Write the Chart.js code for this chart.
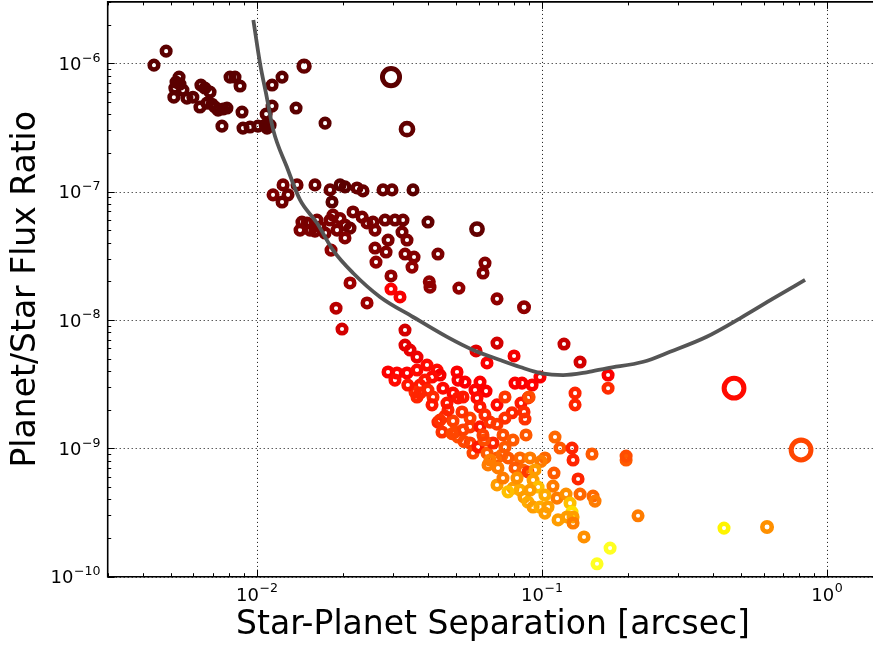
<!DOCTYPE html>
<html><head><meta charset="utf-8">
<style>html,body{margin:0;padding:0;background:#fff;}canvas{display:block;}</style>
<script src="https://cdn.jsdelivr.net/npm/chart.js@4.4.0/dist/chart.umd.min.js"></script>
</head><body>
<canvas id="c" width="873" height="650"></canvas>
<script>
// ---- data ----
const sepArcsec = [
0.00436,0.00481,0.00534,0.00521,0.00516,0.00512,0.00551,0.00569,0.00597,0.00637,
0.00686,0.00632,0.00669,0.00714,0.00732,0.00786,0.00755,0.00806,0.00839,0.00874,
0.00888,0.00895,0.00947,0.0101,0.01087,0.01114,0.01079,0.01132,0.01132,0.01227,
0.01466,0.01374,0.01737,0.02959,0.03367,0.00538,0.00658,0.00697,0.00761,0.01071,
0.01141,0.01227,0.01237,0.01288,0.01385,0.01601,0.01808,0.0196,0.0204,0.02248,
0.0236,0.02774,0.02983,0.03535,0.01837,0.01501,0.01538,0.01627,0.01737,0.01808,
0.01852,0.01913,0.0204,0.02125,0.01668,0.0196,0.02177,0.02342,0.02438,0.02558,
0.026,0.02819,0.03055,0.0326,0.0399,0.05927,0.01823,0.026,0.0289,0.02843,
0.03234,0.03367,0.03314,0.03564,0.04324,0.02621,0.03506,0.02959,0.04031,0.04055,
0.02125,0.02959,0.03182,0.02438,0.01898,0.01992,0.05121,0.06323,0.06223,0.06967,
0.08667,0.03313,0.03313,0.0345,0.0365,0.05881,0.06967,0.07996,0.06426,0.1197,
0.1363,0.1709,0.1709,0.1309,0.4728,0.8125,0.02889,0.03105,0.03367,0.0365,
0.03957,0.0429,0.04396,0.04121,0.03893,0.0374,0.03592,0.0365,0.03988,0.04155,
0.04121,0.04503,0.05043,0.05085,0.05379,0.04883,0.05085,0.05294,0.06074,0.05833,
0.06376,0.05927,0.06074,0.06967,0.07432,0.08058,0.08527,0.09249,0.0986,0.08458,
0.0895,0.08666,0.07866,0.08734,0.0903,0.04324,0.04576,0.04467,0.04883,0.05085,
0.04962,0.05603,0.05603,0.06074,0.06585,0.06967,0.05603,0.0574,0.05978,0.06426,
0.06746,0.07314,0.0793,0.08807,0.1309,0.1113,0.1159,0.1277,0.1288,0.1501,
0.1977,0.1977,0.1026,0.0994,0.06967,0.07256,0.0839,0.07023,0.06967,0.08058,
0.08596,0.0895,0.07314,0.0793,0.0839,0.08189,0.09323,0.0971,0.08666,0.0895,
0.09323,0.0986,0.1026,0.1052,0.1104,0.1341,0.1095,0.1131,0.1217,0.1363,
0.1513,0.1538,0.1257,0.1277,0.1288,0.1226,0.1288,0.1407,0.1737,0.1563,
0.2177,0.436,0.6173,0.04396,0.05294,0.04844,0.05337,0.06274,0.06585,0.07614,
0.091,0.01441,0.01601,0.0469,0.0525,0.0632,0.0743,0.0622,0.0743,0.0648,
0.0762,0.0910,0.0947,0.1026,0.1141,0.0374,0.0339,0.03055,0.0465,0.01419,
0.0204
];
const fluxRatio = [
9.65e-7,1.24e-6,7.79e-7,7.12e-7,6.40e-7,5.43e-7,6.17e-7,5.34e-7,5.43e-7,6.75e-7,
5.95e-7,4.55e-7,4.88e-7,4.55e-7,4.31e-7,4.47e-7,3.23e-7,7.79e-7,7.79e-7,6.63e-7,
4.16e-7,3.12e-7,3.18e-7,3.23e-7,3.12e-7,3.29e-7,4.01e-7,4.63e-7,6.75e-7,7.79e-7,
9.48e-7,4.47e-7,3.41e-7,7.79e-7,3.06e-7,6.87e-7,6.40e-7,4.79e-7,4.39e-7,3.29e-7,
9.42e-8,8.29e-8,1.127e-7,9.42e-8,1.127e-7,1.127e-7,1.03e-7,1.127e-7,1.087e-7,1.067e-7,
1.012e-7,1.03e-7,1.03e-7,1.03e-7,8.29e-8,5.69e-8,5.01e-8,6.00e-8,4.75e-8,6.00e-8,
6.56e-8,5.01e-8,5.49e-8,5.19e-8,5.3e-8,6.15e-8,6.93e-8,6.33e-8,5.69e-8,5.79e-8,
5.01e-8,6.00e-8,6.00e-8,6.00e-8,5.79e-8,5.10e-8,3.50e-8,3.63e-8,4.19e-8,3.38e-8,
4.83e-8,4.19e-8,3.26e-8,3.09e-8,3.26e-8,2.82e-8,2.58e-8,2.20e-8,1.98e-8,1.80e-8,
1.94e-8,1.74e-8,1.51e-8,1.355e-8,1.234e-8,8.49e-9,1.77e-8,2.77e-8,2.32e-8,1.46e-8,
1.256e-8,8.34e-9,6.37e-9,5.83e-9,5.14e-9,5.73e-9,6.60e-9,5.24e-9,4.62e-9,6.49e-9,
4.70e-9,3.72e-9,2.94e-9,2.69e-9,2.94e-9,9.70e-10,3.93e-9,3.86e-9,3.86e-9,4.07e-9,
4.45e-9,4.07e-9,3.72e-9,3.59e-9,3.40e-9,3.11e-9,2.74e-9,2.51e-9,2.84e-9,2.51e-9,
2.18e-9,2.94e-9,3.93e-9,3.40e-9,3.28e-9,2.69e-9,2.47e-9,2.51e-9,3.28e-9,2.84e-9,
2.79e-9,2.47e-9,2.10e-9,2.18e-9,2.51e-9,3.22e-9,3.22e-9,3.11e-9,3.59e-9,2.25e-9,
2.47e-9,1.92e-9,1.89e-9,1.69e-9,2.51e-9,1.60e-9,1.78e-9,1.34e-9,1.63e-9,1.224e-9,
1.34e-9,1.72e-9,1.47e-9,1.47e-9,1.60e-9,1.54e-9,1.10e-9,9.19e-10,1.023e-9,9.19e-10,
1.10e-9,1.27e-9,1.16e-9,1.27e-9,2.18e-9,1.224e-9,1.005e-9,1.005e-9,8.11e-10,9.03e-10,
8.11e-10,8.7e-10,8.41e-10,7.91e-10,8.41e-10,8.87e-10,8.41e-10,7.03e-10,5.18e-10,7.03e-10,
6.78e-10,6.54e-10,5.87e-10,4.90e-10,4.73e-10,5.87e-10,5.66e-10,4.99e-10,4.17e-10,3.81e-10,
3.49e-10,3.49e-10,3.13e-10,3.49e-10,6.42e-10,5.77e-10,5.08e-10,4.09e-10,4.40e-10,4.40e-10,
4.25e-10,3.88e-10,3.74e-10,3.19e-10,2.92e-10,2.92e-10,2.62e-10,2.04e-10,1.67e-10,1.26e-10,
2.98e-10,2.39e-10,2.44e-10,1.66e-9,1.39e-9,1.30e-9,1.13e-9,1.16e-9,8.11e-10,4.58e-10,
4.73e-10,5.79e-8,4.92e-8,1.99e-9,1.92e-9,1.82e-9,1.72e-9,1.27e-9,1.02e-9,7.42e-10,
8.41e-10,8.41e-10,6.78e-10,4.32e-10,2.77e-10,2.69e-9,3.11e-9,3.40e-9,2.25e-9,5.01e-8,
4.35e-8
];
const colourIndex = [
0.12,0.12,0.12,0.12,0.12,0.12,0.12,0.12,0.12,0.12,
0.12,0.12,0.12,0.12,0.12,0.12,0.12,0.12,0.12,0.12,
0.12,0.12,0.12,0.12,0.12,0.12,0.12,0.12,0.12,0.12,
0.13,0.12,0.12,0.12,0.13,0.12,0.12,0.12,0.12,0.12,
0.17,0.15,0.16,0.15,0.15,0.14,0.14,0.12,0.12,0.14,
0.14,0.14,0.14,0.12,0.12,0.17,0.17,0.17,0.17,0.17,
0.17,0.17,0.16,0.15,0.17,0.17,0.16,0.16,0.17,0.16,
0.17,0.15,0.15,0.15,0.13,0.13,0.2,0.18,0.17,0.18,
0.16,0.17,0.18,0.18,0.17,0.2,0.2,0.2,0.2,0.2,
0.22,0.36,0.35,0.22,0.26,0.3,0.2,0.18,0.18,0.2,
0.2,0.3,0.32,0.33,0.34,0.32,0.3,0.35,0.36,0.28,
0.3,0.36,0.43,0.42,0.38,0.47,0.36,0.37,0.37,0.38,
0.38,0.38,0.35,0.38,0.4,0.4,0.43,0.42,0.42,0.43,
0.4,0.38,0.36,0.36,0.36,0.38,0.4,0.4,0.36,0.37,
0.36,0.38,0.4,0.38,0.45,0.36,0.36,0.37,0.36,0.4,
0.42,0.43,0.42,0.44,0.48,0.42,0.43,0.44,0.46,0.48,
0.47,0.46,0.45,0.4,0.44,0.45,0.45,0.47,0.4,0.5,
0.42,0.48,0.5,0.5,0.42,0.52,0.5,0.42,0.42,0.5,
0.5,0.48,0.52,0.55,0.5,0.52,0.52,0.55,0.6,0.5,
0.52,0.45,0.55,0.6,0.62,0.58,0.6,0.65,0.6,0.62,
0.6,0.62,0.6,0.6,0.5,0.42,0.55,0.55,0.58,0.52,
0.52,0.55,0.65,0.7,0.6,0.6,0.55,0.58,0.78,0.78,
0.55,0.73,0.58,0.44,0.46,0.47,0.47,0.48,0.55,0.65,
0.6,0.16,0.17,0.42,0.44,0.43,0.44,0.46,0.5,0.55,
0.5,0.55,0.6,0.62,0.6,0.42,0.4,0.38,0.4,0.17,
0.18
];
const sizeClass = [
1,1,1,1,1,1,1,1,1,1,
1,1,1,1,1,1,1,1,1,1,
1,1,1,1,1,1,1,1,1,1,
1.25,1,1,2,1.4,1,1,1,1,1,
1,1,1,1,1,1,1,1,1,1,
1,1,1,1,1,1,1,1,1,1,
1,1,1,1,1,1,1,1,1,1,
1,1,1,1,1,1.3,1,1,1,1,
1,1,1,1,1,1,1,1,1,1,
1,1,1,1,1,1,1,1,1,1,
1.1,1,1,1,1,1,1,1,1,1,
1,1,1,1,2.3,2.3,1,1,1,1,
1,1,1,1,1,1,1,1,1,1,
1,1,1,1,1,1,1,1,1,1,
1,1,1,1,1,1,1,1,1,1,
1,1,1,1,1,1,1,1,1,1,
1,1,1,1,1,1,1,1,1,1,
1,1,1,1,1,1,1,1,1,1,
1,1,1,1,1,1,1,1,1,1,
1,1,1,1,1,1,1,1,1,1,
1,1,1,1,1,1,1,1,1,1,
1,1,1,1,1,1,1,1,1,1,
1,1,1.1,1,1,1,1,1,1,1,
1,1,1,1,1,1,1,1,1,1,
1,1,1,1,1,1,1,1,1,1,
1
];
const curveSep = [0.00973,0.01027,0.01084,0.01143,0.01275,0.01419,0.01627,0.01852,0.02177,0.02708,
  0.03535,0.04653,0.0574,0.0714,0.0839,0.1,0.1188,0.1438,0.169,0.2273,0.2819,0.3793,0.4964,0.6496,0.8392];
const curveFlux = [2.17e-6,9.96e-7,5.47e-7,3.01e-7,1.56e-7,8.6e-8,5.69e-8,3.5e-8,2.32e-8,1.51e-8,
  1.054e-8,7.37e-9,5.83e-9,4.87e-9,4.3e-9,3.84e-9,3.72e-9,3.91e-9,4.2e-9,4.72e-9,5.65e-9,7.4e-9,1.03e-8,1.47e-8,2.05e-8];
const xTickExponents = [-2, -1, 0];
const yTickExponents = [-10, -9, -8, -7, -6];
const xRange = [0.003, 1.453];
const yRange = [1e-10, 3e-6];
const xAxisTitle = 'Star-Planet Separation [arcsec]';
const yAxisTitle = 'Planet/Star Flux Ratio';

// matplotlib "hot" colormap
function hot(t) {
  const r = Math.min(1, 0.0416 + 0.9584 * t / 0.365079);
  const g = Math.min(1, Math.max(0, (t - 0.365079) / (0.746032 - 0.365079)));
  const b = Math.min(1, Math.max(0, (t - 0.746032) / (1 - 0.746032)));
  return 'rgb(' + Math.round(r * 255) + ',' + Math.round(g * 255) + ',' + Math.round(b * 255) + ')';
}

const FONT = '"DejaVu Sans", "Liberation Sans", sans-serif';

const axesDecor = {
  id: 'axesDecor',
  beforeDatasetsDraw(chart) {
    const {ctx, chartArea: a, scales: {x, y}} = chart;
    ctx.save();
    ctx.strokeStyle = '#111';
    ctx.lineWidth = 1;
    ctx.setLineDash([1, 3]);
    xTickExponents.forEach(e => {
      const px = Math.round(x.getPixelForValue(Math.pow(10, e))) + 0.5;
      ctx.beginPath(); ctx.moveTo(px, a.top); ctx.lineTo(px, a.bottom); ctx.stroke();
    });
    yTickExponents.forEach(e => {
      const py = Math.round(y.getPixelForValue(Math.pow(10, e))) + 0.5;
      ctx.beginPath(); ctx.moveTo(a.left, py); ctx.lineTo(a.right, py); ctx.stroke();
    });
    ctx.restore();
  },
  afterDatasetsDraw(chart) {
    const {ctx, chartArea: a, scales: {x, y}} = chart;
    ctx.save();
    // minor / major ticks pointing inward
    ctx.strokeStyle = '#000';
    ctx.lineWidth = 1;
    const logTicks = (min, max) => {
      const out = [];
      for (let d = Math.floor(Math.log10(min)); d <= Math.ceil(Math.log10(max)); d++) {
        for (let m = 1; m <= 9; m++) {
          const v = m * Math.pow(10, d);
          if (v >= min * 0.9999 && v <= max * 1.0001) out.push({v, major: m === 1});
        }
      }
      return out;
    };
    logTicks(xRange[0], xRange[1]).forEach(t => {
      const px = Math.round(x.getPixelForValue(t.v)) + 0.5;
      const len = t.major ? 7 : 3.5;
      ctx.beginPath();
      ctx.moveTo(px, a.bottom); ctx.lineTo(px, a.bottom - len);
      ctx.moveTo(px, a.top); ctx.lineTo(px, a.top + len);
      ctx.stroke();
    });
    logTicks(yRange[0], yRange[1]).forEach(t => {
      const py = Math.round(y.getPixelForValue(t.v)) + 0.5;
      const len = t.major ? 7 : 3.5;
      ctx.beginPath();
      ctx.moveTo(a.left, py); ctx.lineTo(a.left + len, py);
      ctx.stroke();
    });
    // frame (right spine lies outside the picture)
    ctx.lineWidth = 1.6;
    ctx.beginPath();
    ctx.moveTo(a.right + 2, a.top); ctx.lineTo(a.left, a.top);
    ctx.lineTo(a.left, a.bottom); ctx.lineTo(a.right + 2, a.bottom);
    ctx.stroke();

    // tick labels: 10 with superscript exponent
    ctx.fillStyle = '#000';
    ctx.textBaseline = 'alphabetic';
    ctx.textAlign = 'left';
    const baseFont = '18px ' + FONT, expFont = '12.6px ' + FONT;
    const expText = e => (e < 0 ? '\u2212' : '') + Math.abs(e);
    const measure = (txt, f) => { ctx.font = f; return ctx.measureText(txt).width; };
    xTickExponents.forEach(e => {
      const px = x.getPixelForValue(Math.pow(10, e));
      const wb = measure('10', baseFont), we = measure(expText(e), expFont);
      const x0 = px - (wb + we) / 2;
      ctx.font = baseFont; ctx.fillText('10', x0, 600.5);
      ctx.font = expFont; ctx.fillText(expText(e), x0 + wb + 0.5, 592);
    });
    yTickExponents.forEach(e => {
      const py = y.getPixelForValue(Math.pow(10, e));
      const wb = measure('10', baseFont), we = measure(expText(e), expFont);
      const x0 = 100 - (wb + we);
      ctx.font = baseFont; ctx.fillText('10', x0, py + 6.7);
      ctx.font = expFont; ctx.fillText(expText(e), x0 + wb + 0.5, py - 1.6);
    });

    // axis titles
    ctx.font = '33px ' + FONT;
    ctx.textAlign = 'center';
    ctx.fillText(xAxisTitle, 493, 633.5);
    ctx.save();
    ctx.translate(35, (a.top + a.bottom) / 2);
    ctx.rotate(-Math.PI / 2);
    ctx.fillText(yAxisTitle, 0, 0);
    ctx.restore();
    ctx.restore();
  }
};

const bgPlugin = {
  id: 'bg',
  beforeDraw(chart) {
    const c = chart.ctx;
    c.save(); c.fillStyle = '#fff'; c.fillRect(0, 0, chart.width, chart.height); c.restore();
  }
};

const scatterPoints = sepArcsec.map((s, i) => ({x: s, y: fluxRatio[i]}));
const curvePoints = curveSep.map((s, i) => ({x: s, y: curveFlux[i]}));

new Chart(document.getElementById('c'), {
  type: 'scatter',
  data: {
    datasets: [
      {
        label: 'Contrast curve',
        data: curvePoints,
        showLine: true,
        borderColor: '#555555',
        borderWidth: 3.8,
        pointRadius: 0,
        cubicInterpolationMode: 'monotone',
        fill: false,
        order: 0
      },
      {
        label: 'Planets',
        data: scatterPoints,
        pointStyle: 'circle',
        pointRadius: sizeClass.map(s => 4.3 * s),
        pointBorderWidth: sizeClass.map(s => 4.5 + (s - 1) * 0.4),
        pointBorderColor: colourIndex.map(hot),
        pointBackgroundColor: 'rgba(0,0,0,0)',
        order: 1
      }
    ]
  },
  options: {
    responsive: false,
    animation: false,
    devicePixelRatio: 1,
    events: [],
    layout: {autoPadding: false, padding: {top: 1.9, right: 0, bottom: 0, left: 0}},
    plugins: {legend: {display: false}, tooltip: {enabled: false}},
    scales: {
      x: {
        type: 'logarithmic', min: xRange[0], max: xRange[1],
        grid: {display: false, drawTicks: false},
        border: {display: false},
        ticks: {display: false},
        title: {display: false, text: xAxisTitle},
        afterFit(s) { s.height = 73.3; }
      },
      y: {
        type: 'logarithmic', min: yRange[0], max: yRange[1],
        grid: {display: false, drawTicks: false},
        border: {display: false},
        ticks: {display: false},
        title: {display: false, text: yAxisTitle},
        afterFit(s) { s.width = 107.7; }
      }
    }
  },
  plugins: [bgPlugin, axesDecor]
});
</script>
</body></html>
